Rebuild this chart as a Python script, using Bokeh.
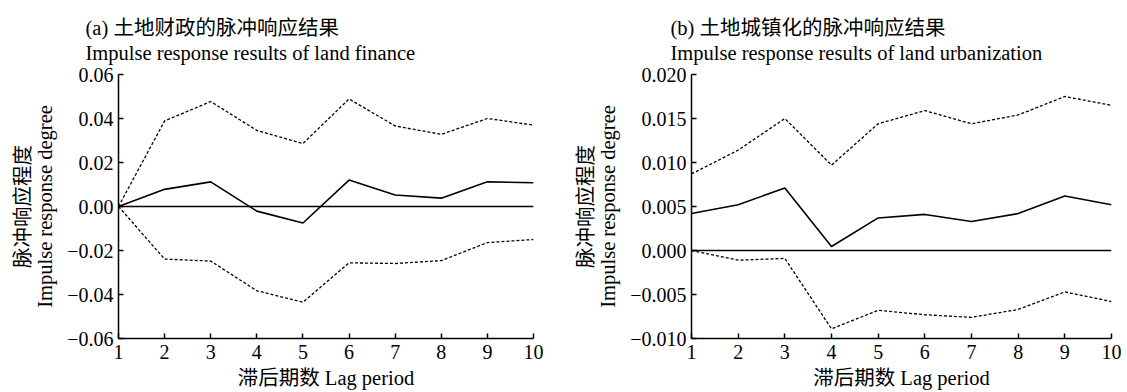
from bokeh.plotting import figure
from bokeh.layouts import row
from bokeh.models import Range1d, FixedTicker, Title, Span
from bokeh.embed import file_html
from bokeh.resources import INLINE

lags = [1, 2, 3, 4, 5, 6, 7, 8, 9, 10]

finance_resp = [0.0, 0.0078, 0.0112, -0.0021, -0.0075, 0.0120, 0.0052, 0.0038, 0.0112, 0.0108]
finance_upper = [0.0, 0.0389, 0.0477, 0.0346, 0.0286, 0.0489, 0.0366, 0.0328, 0.0400, 0.0370]
finance_lower = [0.0, -0.0239, -0.0248, -0.0383, -0.0435, -0.0256, -0.0259, -0.0246, -0.0164, -0.0150]

urban_resp = [0.0042, 0.0052, 0.0071, 0.00045, 0.0037, 0.0041, 0.0033, 0.0042, 0.0062, 0.0052]
urban_upper = [0.0087, 0.0114, 0.0150, 0.0097, 0.0144, 0.0159, 0.0144, 0.0154, 0.0175, 0.0165]
urban_lower = [0.0, -0.0011, -0.0009, -0.0089, -0.0068, -0.0073, -0.0076, -0.0067, -0.0047, -0.0058]

finance_ticks = [-0.06, -0.04, -0.02, 0, 0.02, 0.04, 0.06]
finance_tick_labels = ["\u22120.06", "\u22120.04", "\u22120.02", "0.00", "0.02", "0.04", "0.06"]
urban_ticks = [-0.01, -0.005, 0, 0.005, 0.01, 0.015, 0.02]
urban_tick_labels = ["\u22120.010", "\u22120.005", "0.000", "0.005", "0.010", "0.015", "0.020"]

title_a = "(a) 土地财政的脉冲响应结果\nImpulse response results of land finance"
title_b = "(b) 土地城镇化的脉冲响应结果\nImpulse response results of land urbanization"
ylabel = "脉冲响应程度\nImpulse response degree"
xlabel = "滞后期数 Lag period"

SERIF = "Liberation Serif"
FONT = "'Liberation Serif', 'Noto Sans CJK SC'"


def panel(width, border_left, border_right, yr, ticks, tick_labels, resp, upper, lower, title, title_offset):
    p = figure(width=width, height=392, output_backend="svg", toolbar_location=None,
               x_range=Range1d(1, 10), y_range=Range1d(yr[0], yr[1]),
               min_border_left=border_left, min_border_right=border_right,
               min_border_top=74, min_border_bottom=54)
    p.outline_line_color = None
    p.grid.visible = False
    p.background_fill_color = "white"
    p.border_fill_color = "white"

    p.line(lags, upper, line_color="black", line_width=1.3, line_dash="3 2")
    p.line(lags, lower, line_color="black", line_width=1.3, line_dash="3 2")
    p.line(lags, resp, line_color="black", line_width=1.6)
    p.add_layout(Span(location=0, dimension="width", line_color="black", line_width=1.5))

    for ax in (p.xaxis[0], p.yaxis[0]):
        ax.axis_line_color = "black"
        ax.axis_line_width = 1.5
        ax.major_tick_line_color = "black"
        ax.major_tick_line_width = 1.5
        ax.major_tick_in = 5
        ax.major_tick_out = 0
        ax.minor_tick_line_color = None
        ax.major_label_text_font = SERIF
        ax.major_label_text_font_size = "20px"
        ax.major_label_text_color = "black"
        ax.axis_label_text_font = FONT
        ax.axis_label_text_font_size = "20.5px"
        ax.axis_label_text_font_style = "normal"
        ax.axis_label_text_color = "black"

    p.xaxis.ticker = FixedTicker(ticks=lags)
    p.xaxis.major_label_standoff = 6
    p.xaxis.axis_label = xlabel
    p.xaxis.axis_label_standoff = 5

    p.yaxis.ticker = FixedTicker(ticks=ticks)
    p.yaxis.major_label_overrides = dict(zip(ticks, tick_labels))
    p.yaxis.major_label_standoff = 5
    p.yaxis.axis_label = ylabel
    p.yaxis.axis_label_standoff = 8
    p.yaxis.axis_label_text_line_height = 1.01

    p.add_layout(Title(text=title, text_font=FONT, text_font_size="20.5px", text_font_style="normal",
                       text_color="black", align="left", offset=title_offset, standoff=20,
                       text_line_height=1.15), "above")
    return p


left = panel(560, 118, 27, (-0.06, 0.06), finance_ticks, finance_tick_labels,
             finance_resp, finance_upper, finance_lower, title_a, -33)
right = panel(567, 131, 16, (-0.01, 0.02), urban_ticks, urban_tick_labels,
              urban_resp, urban_upper, urban_lower, title_b, -21)

layout = row(left, right)
open("out.html", "w").write(file_html(layout, INLINE))
